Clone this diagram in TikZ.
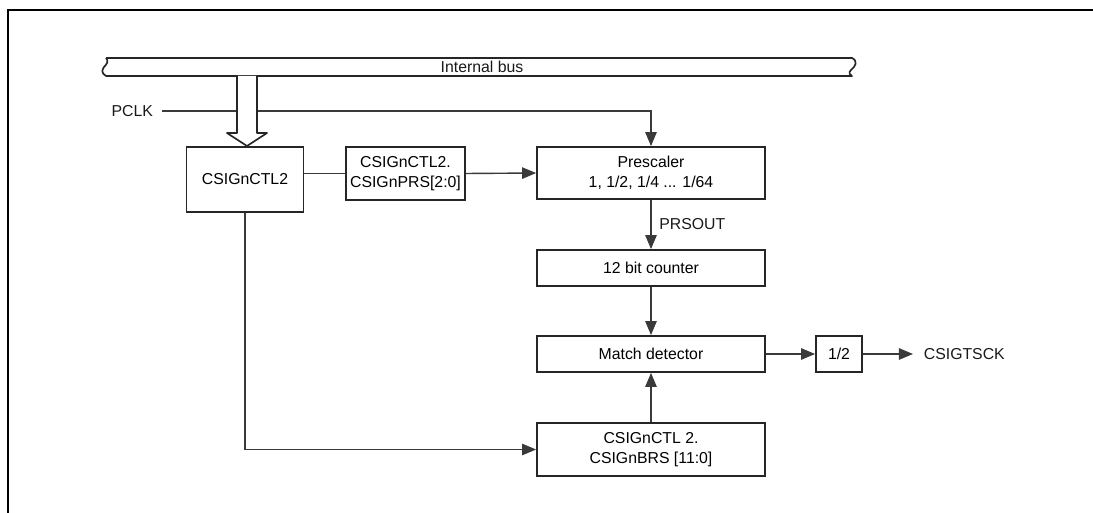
\documentclass[tikz,border=0pt]{standalone}
\usepackage{fontspec}
\setmainfont{Liberation Sans}
\usepackage{xcolor}
\usepackage{tikz}
\usetikzlibrary{arrows.meta,calc,positioning}
\definecolor{wire}{HTML}{3A3A3A}
\definecolor{outline}{HTML}{262626}
\tikzset{
  block/.style={
    draw=outline,
    line width=1pt,
    fill=white,
    align=center,
    font=\fontsize{9}{11.4}\selectfont,
    inner sep=0pt
  },
  sig/.style={draw=wire, line width=0.8pt, -{Triangle[length=8pt,width=6.5pt]}},
  plainwire/.style={draw=wire, line width=0.8pt},
  busline/.style={draw=outline, line width=0.95pt, line join=round},
  label/.style={font=\fontsize{9}{11}\selectfont, text=black!90}
}

\begin{document}
\begin{tikzpicture}[x=0.02cm,y=-0.02cm]
\path[use as bounding box] (0,0) rectangle (1093,513);
% frame, open to the right and below
\draw[line width=1.7pt] (8,513) -- (8,10) -- (1093,10);

% internal bus
\draw[busline] (106,58) -- (852,58)
  .. controls (858,61) and (856,66) .. (851,70)
  .. controls (848,73) and (850,75) .. (852,76) -- (106,76)
  .. controls (101,73) and (102,70) .. (104,67)
  .. controls (107,64) and (109,61) .. (106,58);
\node[label] (bus) at (482,67) {Internal bus};

\node[label, anchor=east, inner xsep=5pt] (pclk) at (162,111) {PCLK};

\node[block, minimum width=2.34cm, minimum height=1.3cm] (ctltwo) at (245,179.5) {CSIGnCTL2};
\node[block, minimum width=2.38cm, minimum height=1.06cm] (prs) at (405.5,173.5) {CSIGnCTL2.\\CSIGnPRS[2:0]};
\node[block, minimum width=4.56cm, minimum height=1.04cm] (presc) at (651,173) {Prescaler\\1, 1/2, 1/4 ... 1/64};
\node[block, minimum width=4.56cm, minimum height=0.72cm] (counter) at (651,268) {12 bit counter};
\node[block, minimum width=4.56cm, minimum height=0.72cm] (match) at (651,354) {Match detector};
\node[block, minimum width=4.56cm, minimum height=1.06cm] (brs) at (651,449.5) {CSIGnCTL 2.\\CSIGnBRS [11:0]};
\node[block, minimum width=0.92cm, minimum height=0.72cm] (half) at (839,354) {1/2};
\node[label, anchor=west, inner xsep=6pt] (tsck) at (913,354) {CSIGTSCK};

\draw[sig] (pclk.east) -| (presc.north);

% hollow bus arrow into CSIGnCTL2
\coordinate (busdrop) at (247,76);
\draw[busline, fill=white] (busdrop) ++(-10,0) -- ++(0,57) -- ++(-10,0)
  -- ++(20,13) -- ++(20,-13) -- ++(-10,0) -- ++(0,-57);

\draw[plainwire] (ctltwo.east |- prs.west) -- (prs.west);
\draw[sig] (prs.east) -- (presc.west);
\draw[sig] (presc.south) -- node[label, right, xshift=1pt] {PRSOUT} (counter.north);
\draw[sig] (counter.south) -- (match.north);
\draw[sig] (brs.north) -- (match.south);
\draw[sig] (ctltwo.south) |- (brs.west);
\draw[sig] (match.east) -- (half.west);
\draw[sig] (half.east) -- (tsck.west);
\end{tikzpicture}
\end{document}
